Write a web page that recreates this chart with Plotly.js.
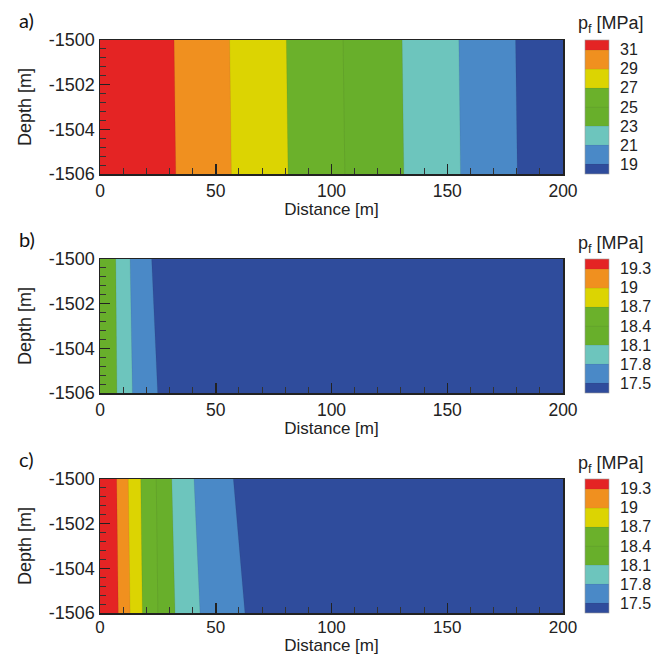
<!DOCTYPE html>
<html>
<head>
<meta charset="utf-8">
<script src="https://cdn.plot.ly/plotly-3.0.1.min.js"></script>
<style>html,body{margin:0;padding:0;background:#fff;}#chart{width:661px;height:655px;}</style>
</head>
<body>
<div id="chart"></div>
<script>
// ---------- data ----------
const depth = [-1506, -1500];                 // bottom row, top row

// Panel a
const distA   = [0, 32.0, 56.0, 80.5, 105.0, 130.5, 155.0, 179.5, 200];
const pTopA   = [33.6, 31.0, 29.0, 27.0, 25.0, 23.0, 21.0, 19.0, 17.4];
const pBotA   = [33.66, 31.06, 29.06, 27.06, 25.06, 23.06, 21.06, 19.06, 17.46];
const levelsA = [19, 21, 23, 25, 27, 29, 31];

// Panel b
const distB   = [0, 6.8, 7.3, 13.0, 14.0, 22.3, 24.9, 40, 200];
const pTopB   = [18.38, 18.10, 18.08, 17.80, 17.77, 17.50, 17.45, 17.30, 17.00];
const pBotB   = [18.39, 18.12, 18.10, 17.84, 17.80, 17.54, 17.50, 17.35, 17.00];
const levelsB = [17.5, 17.8, 18.1, 18.4, 18.7, 19, 19.3];

// Panel c
const distC   = [0, 7.2, 7.9, 12.2, 13.0, 17.6, 18.3, 24.3, 25.0, 31.0, 32.4, 40.6, 43.2, 57.6, 62.6, 100, 200];
const pTopC   = [19.75, 19.30, 19.26, 19.00, 18.96, 18.70, 18.67, 18.40, 18.37, 18.10, 18.05, 17.80, 17.74, 17.50, 17.43, 17.20, 17.00];
const pBotC   = [19.80, 19.34, 19.30, 19.04, 19.00, 18.73, 18.70, 18.43, 18.40, 18.15, 18.10, 17.87, 17.80, 17.58, 17.50, 17.25, 17.02];
const levelsC = [17.5, 17.8, 18.1, 18.4, 18.7, 19, 19.3];

const yTickVals = [-1500, -1502, -1504, -1506];
const yTickText = ["-1500", "-1502", "-1504", "-1506"];
const xTickVals = [0, 50, 100, 150, 200];
const panelLabels = ["a)", "b)", "c)"];

// ---------- styling ----------
const bandColors = ["#2f4c9c", "#4a89c7", "#6dc5bd", "#68af2b", "#6bb12b", "#dcd402", "#f0901f", "#e42424"];
const colorscale = bandColors.map((c, i) => [i / (bandColors.length - 1), c]);
const FONT = "Liberation Sans, Arial, sans-serif";
const W = 661, H = 655;
const plotL = 100, plotR = 563;
const rows = [[40, 174], [259, 393], [479, 613]];
const xDom = [plotL / W, plotR / W];
const yDom = rows.map(r => [1 - r[1] / H, 1 - r[0] / H]);

function contourTrace(dist, pTop, pBot, levels, idx, fmt) {
  const sfx = idx === 0 ? "" : String(idx + 1);
  const yd = yDom[idx];
  return {
    type: "contour",
    x: dist, y: depth, z: [pBot, pTop],
    xaxis: "x" + sfx, yaxis: "y" + sfx,
    colorscale: colorscale,
    contours: {coloring: "fill", start: levels[0], end: levels[levels.length - 1],
               size: levels[1] - levels[0], showlines: true},
    line: {width: 0.5, color: "rgba(40,40,40,0.18)", smoothing: 0},
    hoverinfo: "skip",
    colorbar: {
      x: 585 / W, xanchor: "left", xpad: 0, ypad: 0,
      y: (yd[0] + yd[1]) / 2, yanchor: "middle",
      len: (rows[idx][1] - rows[idx][0]) / H, lenmode: "fraction",
      thickness: 24, thicknessmode: "pixels",
      outlinewidth: 0.6, outlinecolor: "#9a9a9a",
      tickmode: "array", tickvals: levels, ticktext: levels.map(fmt),
      ticks: "outside", ticklen: 8, tickcolor: "rgba(0,0,0,0)",
      tickfont: {family: FONT, size: 16, color: "#222"}
    }
  };
}

const data = [
  contourTrace(distA, pTopA, pBotA, levelsA, 0, v => String(v)),
  contourTrace(distB, pTopB, pBotB, levelsB, 1, v => String(v)),
  contourTrace(distC, pTopC, pBotC, levelsC, 2, v => String(v))
];

const layout = {
  width: W, height: H,
  margin: {l: 0, r: 0, t: 0, b: 0},
  paper_bgcolor: "#fff", plot_bgcolor: "#fff",
  showlegend: false,
  font: {family: FONT, color: "#222"},
  annotations: []
};

for (let i = 0; i < 3; i++) {
  const sfx = i === 0 ? "" : String(i + 1);
  layout["xaxis" + sfx] = {
    domain: xDom, anchor: "y" + sfx, range: [0, 200],
    tickmode: "array", tickvals: xTickVals,
    ticks: "inside", ticklen: 10, tickwidth: 1.5, tickcolor: "#222",
    minor: {ticks: "inside", tick0: 0, dtick: 10, ticklen: 6, tickwidth: 1, tickcolor: "#333"},
    showline: true, mirror: true, linecolor: "#222", linewidth: 1.5,
    showgrid: false, zeroline: false,
    ticklabelstandoff: i === 2 ? -2 : 0,
    tickfont: {family: FONT, size: i === 2 ? 17 : 17.5, color: "#222"},
    title: {text: "Distance [m]", font: {family: FONT, size: 17, color: "#222"}, standoff: 3}
  };
  layout["yaxis" + sfx] = {
    domain: yDom[i], anchor: "x" + sfx, range: [-1506, -1500],
    tickmode: "array", tickvals: yTickVals, ticktext: yTickText,
    ticks: "inside", ticklen: 10, tickwidth: 1.5, tickcolor: "#222",
    minor: {ticks: "inside", tick0: -1506, dtick: 0.4, ticklen: 6, tickwidth: 1, tickcolor: "#333"},
    showline: true, mirror: true, linecolor: "#222", linewidth: 1.5,
    showgrid: false, zeroline: false,
    tickfont: {family: FONT, size: 18, color: "#222"},
    title: {text: "Depth [m]", font: {family: FONT, size: 18, color: "#222"}, standoff: 12}
  };
  // panel label
  layout.annotations.push({
    xref: "paper", yref: "paper", x: 17 / W, y: 1 - (rows[i][0] - 20) / H,
    xanchor: "left", yanchor: "middle", showarrow: false,
    text: panelLabels[i], font: {family: "Lato, Open Sans, sans-serif", size: 20, color: "#111"}
  });
  // colorbar title
  layout.annotations.push({
    xref: "paper", yref: "paper", x: 576 / W, y: 1 - (rows[i][0] - 15) / H,
    xanchor: "left", yanchor: "middle", showarrow: false,
    text: "p<sub>f</sub> [MPa]", font: {family: FONT, size: 18, color: "#222"}
  });
}

Plotly.newPlot("chart", data, layout, {displayModeBar: false, staticPlot: true});
</script>
</body>
</html>
